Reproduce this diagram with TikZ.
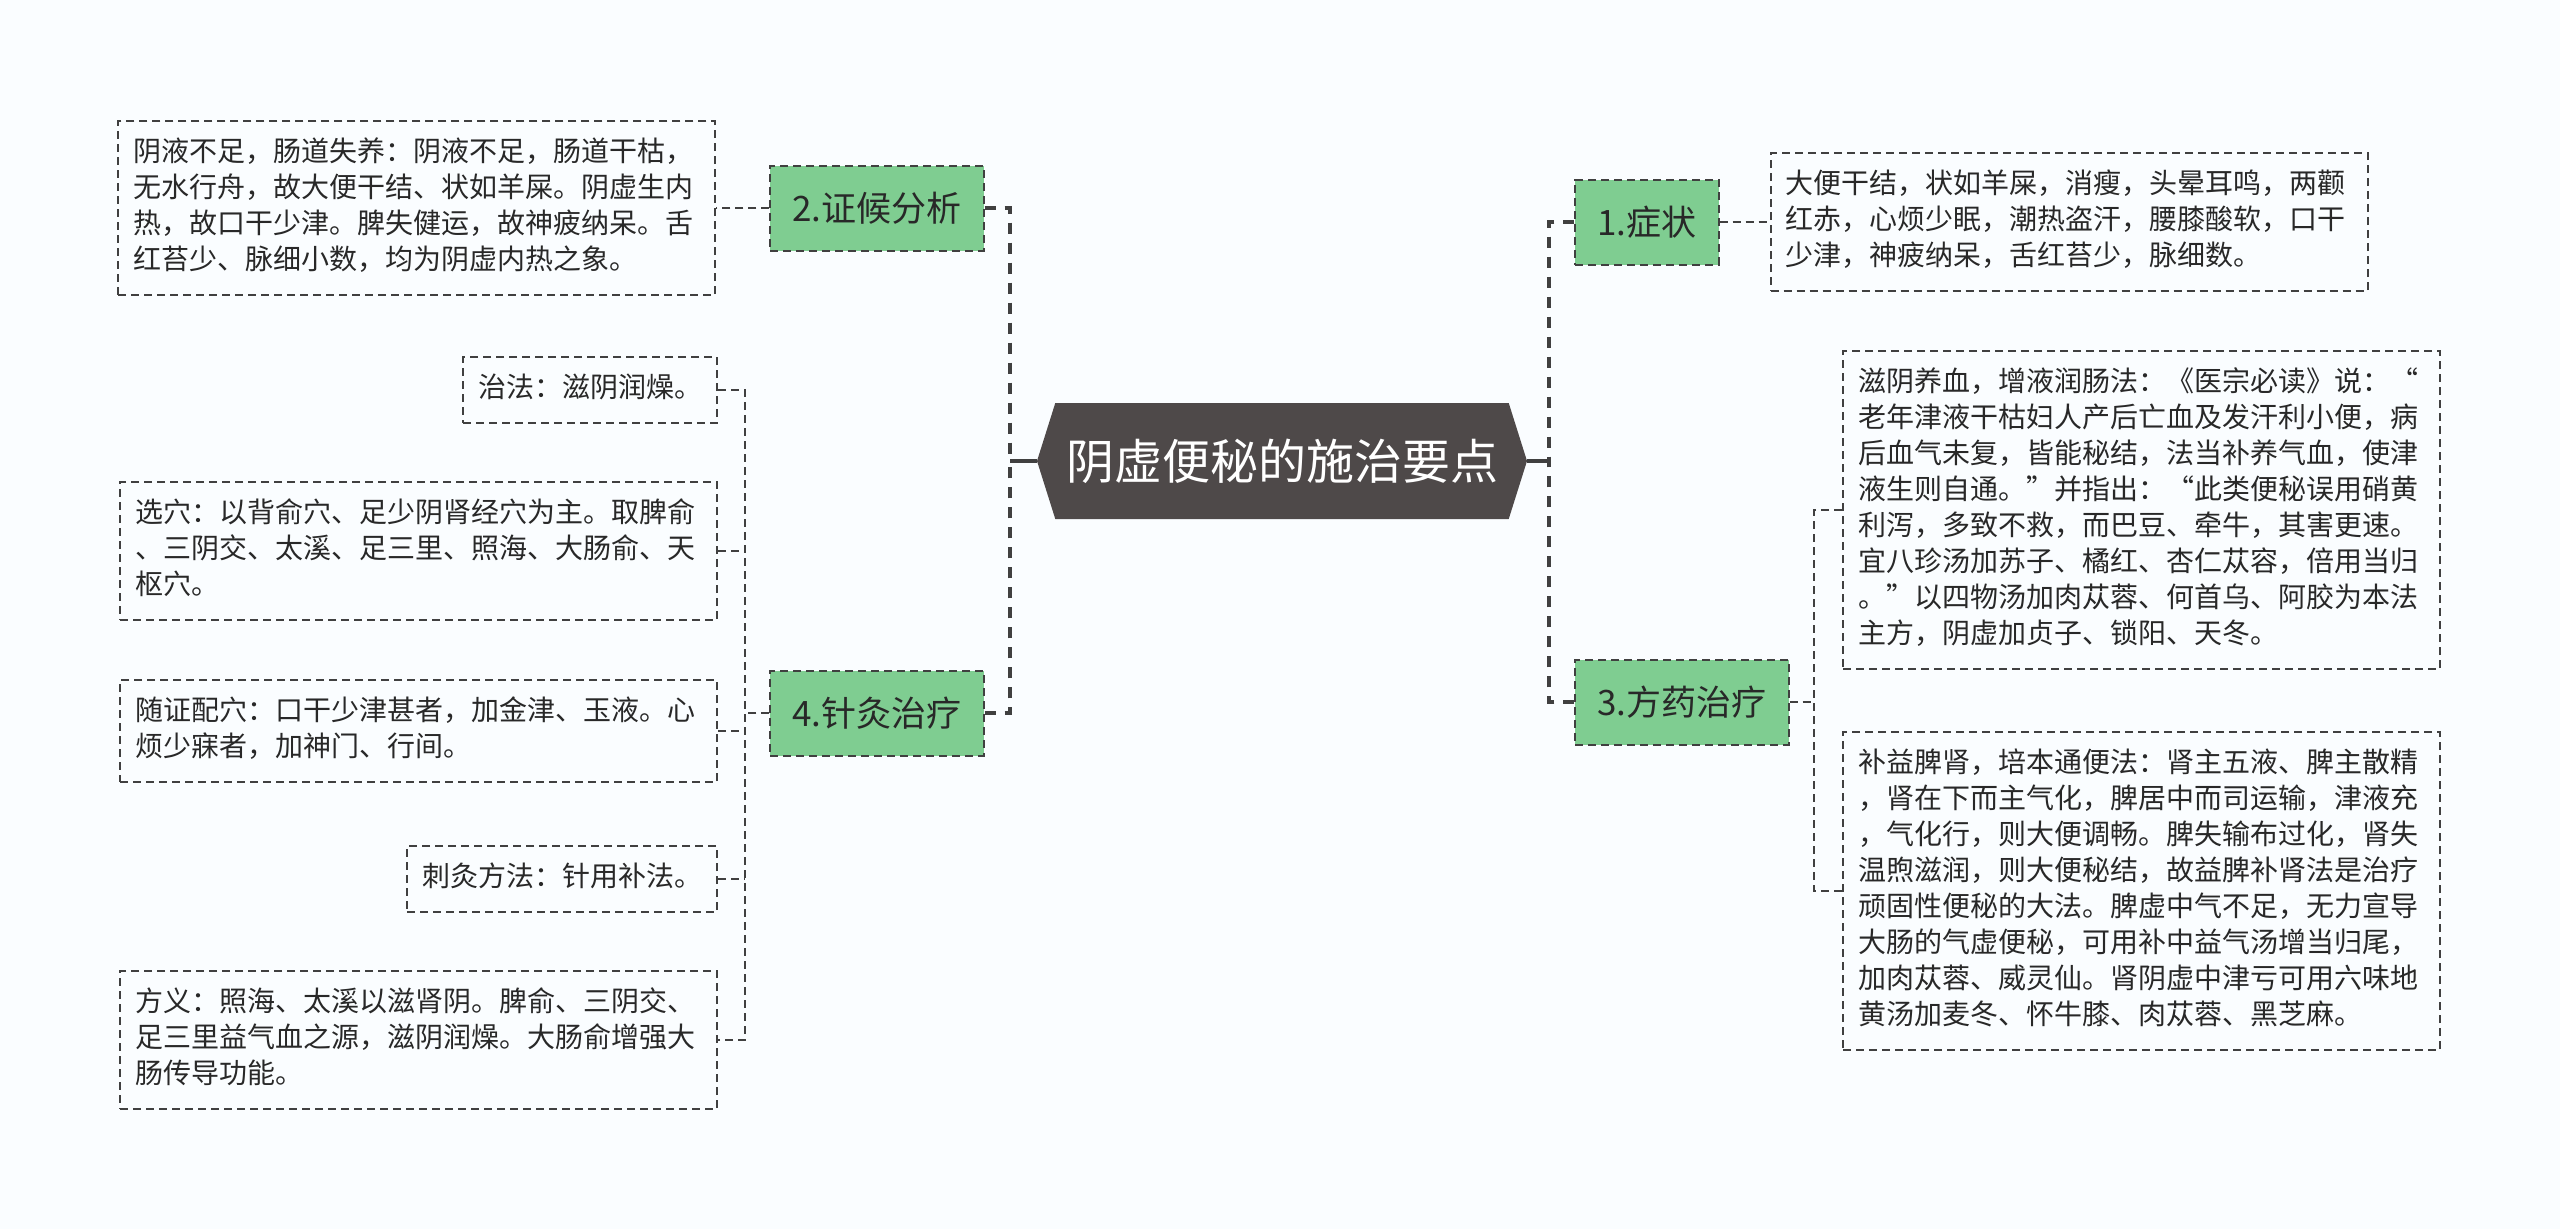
\documentclass[tikz,border=0pt]{standalone}
\usepackage{fontspec}
\setmainfont{Noto Sans CJK SC}
\usepackage{tikz}
\usetikzlibrary{shapes.symbols, positioning}

\definecolor{bgpaper}{RGB}{250,253,255}
\definecolor{rootgray}{RGB}{78,73,73}
\definecolor{topicgreen}{RGB}{127,205,145}
\definecolor{linegray}{RGB}{64,64,64}
\definecolor{inkgray}{RGB}{40,40,40}

\begin{document}
\begin{tikzpicture}[x=1pt,y=-1pt,
  root/.style={signal, signal to=west and east, signal pointer angle=145, fill=rootgray, text=white,
    font=\fontsize{48}{58}\selectfont, minimum width=490pt, minimum height=116pt, inner sep=0pt},
  topic/.style={draw=linegray, line width=2pt, dash pattern=on 8pt off 5pt, fill=topicgreen, text=inkgray,
    font=\fontsize{35}{42}\selectfont, minimum height=85pt, inner xsep=22pt},
  leaf/.style={draw=linegray, line width=2pt, dash pattern=on 8pt off 5pt, text=inkgray,
    font=\fontsize{28}{36}\selectfont, align=left, inner sep=15pt,
    execute at begin node=\strut, execute at end node=\strut},
  wide/.style={leaf, text width=567pt},
  trunk/.style={draw=linegray, line width=4pt},
  spine/.style={draw=linegray, line width=4pt, dash pattern=on 11pt off 9pt},
  twig/.style={draw=linegray, line width=2pt, dash pattern=on 8pt off 5pt}]

\fill[bgpaper] (0,0) rectangle (2560,1229);
\useasboundingbox (0,0) rectangle (2560,1229);

\node[root] (root) at (1282,461) {阴虚便秘的施治要点};

\node[topic] (zh) at (877,208) {2.证候分析};
\node[topic] (zj) at (877,713) {4.针灸治疗};
\node[topic] (zz) at (1647,222) {1.症状};
\node[topic] (fy) at (1682,702) {3.方药治疗};

% left side
\node[wide, left=53pt of zh] (zh1) {阴液不足，肠道失养：阴液不足，肠道干枯，\\无水行舟，故大便干结、状如羊屎。阴虚生内\\热，故口干少津。脾失健运，故神疲纳呆。舌\\红苔少、脉细小数，均为阴虚内热之象。};

\node[leaf, anchor=east] (zj1) at (718,390) {治法：滋阴润燥。};
\node[wide, anchor=east] (zj2) at (718,551) {选穴：以背俞穴、足少阴肾经穴为主。取脾俞\\、三阴交、太溪、足三里、照海、大肠俞、天\\枢穴。};
\node[wide, anchor=east] (zj3) at (718,731) {随证配穴：口干少津甚者，加金津、玉液。心\\烦少寐者，加神门、行间。};
\node[leaf, anchor=east] (zj4) at (718,879) {刺灸方法：针用补法。};
\node[wide, anchor=east] (zj5) at (718,1040) {方义：照海、太溪以滋肾阴。脾俞、三阴交、\\足三里益气血之源，滋阴润燥。大肠俞增强大\\肠传导功能。};

% right side
\node[wide, right=50pt of zz] (zz1) {大便干结，状如羊屎，消瘦，头晕耳鸣，两颧\\红赤，心烦少眠，潮热盗汗，腰膝酸软，口干\\少津，神疲纳呆，舌红苔少，脉细数。};

\node[wide, anchor=west] (fy1) at (1842,510) {滋阴养血，增液润肠法：《医宗必读》说：“\\老年津液干枯妇人产后亡血及发汗利小便，病\\后血气未复，皆能秘结，法当补养气血，使津\\液生则自通。”并指出：“此类便秘误用硝黄\\利泻，多致不救，而巴豆、牵牛，其害更速。\\宜八珍汤加苏子、橘红、杏仁苁容，倍用当归\\。”以四物汤加肉苁蓉、何首乌、阿胶为本法\\主方，阴虚加贞子、锁阳、天冬。};
\node[wide, anchor=west] (fy2) at (1842,891) {补益脾肾，培本通便法：肾主五液、脾主散精\\，肾在下而主气化，脾居中而司运输，津液充\\，气化行，则大便调畅。脾失输布过化，肾失\\温煦滋润，则大便秘结，故益脾补肾法是治疗\\顽固性便秘的大法。脾虚中气不足，无力宣导\\大肠的气虚便秘，可用补中益气汤增当归尾，\\加肉苁蓉、威灵仙。肾阴虚中津亏可用六味地\\黄汤加麦冬、怀牛膝、肉苁蓉、黑芝麻。};

% connectors
\coordinate (lj) at (1010,461);
\coordinate (rj) at (1549,461);
\coordinate (zjb) at (745,713);
\coordinate (fyb) at (1814,702);

\draw[trunk] (root.west) -- (lj);
\draw[trunk] (root.east) -- (rj);
\draw[spine] (zh.east) -| (lj);
\draw[spine] (zj.east) -| (lj);
\draw[spine] (zz.west) -| (rj);
\draw[spine] (fy.west) -| (rj);

\draw[twig] (zh.west) -- (zh1.east);
\draw[twig] (zz.east) -- (zz1.west);
\draw[twig] (zj.west) -- (zjb);
\draw[twig] (zj1.east) -| (zjb |- zj5.east) -- (zj5.east);
\foreach \c in {zj2,zj3,zj4}
  \draw[twig] (\c.east) -- (\c.east -| zjb);
\draw[twig] (fy.east) -- (fyb);
\draw[twig] (fy1.west) -| (fyb |- fy2.west) -- (fy2.west);

\end{tikzpicture}
\end{document}
